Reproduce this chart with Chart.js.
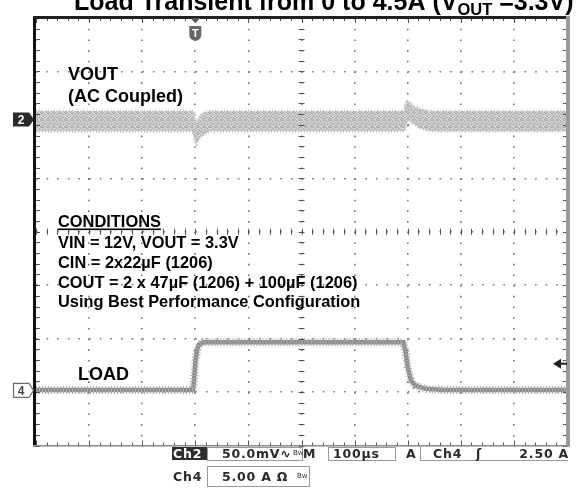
<!DOCTYPE html>
<html>
<head>
<meta charset="utf-8">
<style>
  html, body { margin: 0; padding: 0; background: #fff; }
  #scope { display: block; }
</style>
</head>
<body>
<canvas id="scope" width="580" height="493"></canvas>
<script src="https://cdn.jsdelivr.net/npm/chart.js@4.4.0/dist/chart.umd.min.js"></script>
<script>
// horizontal: 100 us/div, trigger 3 divisions from the left edge
const timeRange = [-300, 700];

// Ch2 - VOUT, AC coupled (mV): trace centre and noise envelope
const voutTime = [-300, -2.4, -0.6, 2.3, 8.8, 18, 31, 395, 397.7, 402, 410, 423, 442, 700];
const voutMid  = [-2, -2, -13, -14, -7, -4, -2, -2, 10, 8, 4, 1, -2, -2];
const voutHigh = [8, 8, -2, -3, 4, 7, 8, 8, 18, 17, 13, 10, 8, 8];
const voutLow  = [-11, -11, -22, -23, -17, -13, -11, -11, 0, -1, -4, -8, -11, -11];

// Ch4 - load current step (A)
const loadTime = [-300, -4.3, -2.4, 0.4, 3.2, 7, 14.5, 392, 396, 400, 406, 414, 434, 470, 700];
const loadAmps = [0.05, 0.05, 0.94, 2.8, 3.75, 4.3, 4.5, 4.5, 3.6, 2.2, 0.95, 0.45, 0.15, 0.05, 0.05];

// channel settings (per division) and ground marker positions (div above centre)
const ch2PerDiv = 50;
const ch4PerDiv = 5;
const ch2Pos = 2.1;
const ch4Pos = -2.97;

// graticule is 10 x 8 divisions
const plotW = 531;
const plotH = 427.5;

const points = (xs, ys) => xs.map((x, i) => ({ x: x, y: ys[i] }));

// persistence-style grain for the VOUT trace
function grain() {
  const rows = ['120121', '212012', '101210', '021102', '210120', '112201', '201012'];
  const shades = ['#dedede', '#c6c6c6', '#acacac'];
  const c = document.createElement('canvas');
  c.width = 6; c.height = rows.length;
  const g = c.getContext('2d');
  rows.forEach((r, y) => r.split('').forEach((v, x) => {
    g.fillStyle = shades[+v];
    g.fillRect(x, y, 1, 1);
  }));
  return g.createPattern(c, 'repeat');
}

const scopeOverlay = {
  id: 'scopeOverlay',
  afterDraw(chart) {
    const ctx = chart.ctx;
    const a = chart.chartArea;
    const xs = chart.scales.x;
    const ys = chart.scales.yDiv;
    const x0 = xs.getPixelForValue(200);
    const y0 = ys.getPixelForValue(0);

    ctx.save();

    // minor ticks on the frame and the centre cross
    ctx.strokeStyle = '#555';
    ctx.lineWidth = 1;
    for (let t = timeRange[0]; t <= timeRange[1]; t += 20) {
      const px = Math.round(xs.getPixelForValue(t)) + 0.5;
      const len = (t % 100 === 0) ? 5 : 3;
      ctx.beginPath();
      ctx.moveTo(px, a.top); ctx.lineTo(px, a.top + len);
      ctx.moveTo(px, a.bottom); ctx.lineTo(px, a.bottom - len);
      ctx.moveTo(px, y0 - 3); ctx.lineTo(px, y0 + 3);
      ctx.stroke();
    }
    for (let d = -4; d <= 4.001; d += 0.2) {
      const py = Math.round(ys.getPixelForValue(d)) + 0.5;
      ctx.beginPath();
      ctx.moveTo(a.left, py); ctx.lineTo(a.left + 4, py);
      ctx.moveTo(a.right, py); ctx.lineTo(a.right - 4, py);
      ctx.moveTo(x0 - 3, py); ctx.lineTo(x0 + 3, py);
      ctx.stroke();
    }

    // frame
    ctx.fillStyle = '#111';
    ctx.fillRect(a.left - 3, a.top - 2, 3, a.bottom - a.top + 3);
    ctx.fillStyle = '#222';
    ctx.fillRect(a.left - 3, a.top - 2, a.right - a.left + 3, 3);
    ctx.fillStyle = '#9a9a9a';
    ctx.fillRect(a.right - 1, a.top - 2, 4, a.bottom - a.top + 3);
    ctx.fillStyle = '#8a8a8a';
    ctx.fillRect(a.left - 3, a.bottom - 0.5, a.right - a.left + 6, 1.5);

    // channel 2 ground marker
    const m2 = chart.scales.y2.getPixelForValue(0);
    ctx.fillStyle = '#2b2b2b';
    ctx.beginPath();
    ctx.moveTo(13, m2 - 7); ctx.lineTo(29, m2 - 7); ctx.lineTo(34, m2);
    ctx.lineTo(29, m2 + 7); ctx.lineTo(13, m2 + 7); ctx.closePath();
    ctx.fill();
    ctx.fillStyle = '#fff';
    ctx.font = 'bold 12px "Liberation Sans", Arial, sans-serif';
    ctx.textAlign = 'center';
    ctx.fillText('2', 21, m2 + 4.5);

    // channel 4 ground marker
    const m4 = chart.scales.y4.getPixelForValue(0);
    ctx.fillStyle = '#fff';
    ctx.strokeStyle = '#6a6a6a';
    ctx.lineWidth = 1.2;
    ctx.beginPath();
    ctx.moveTo(13.5, m4 - 7); ctx.lineTo(29, m4 - 7); ctx.lineTo(33.5, m4);
    ctx.lineTo(29, m4 + 7); ctx.lineTo(13.5, m4 + 7); ctx.closePath();
    ctx.fill(); ctx.stroke();
    ctx.fillStyle = '#444';
    ctx.fillText('4', 21, m4 + 4.5);

    // trigger position marker
    const tx = xs.getPixelForValue(0);
    ctx.fillStyle = '#555';
    ctx.beginPath();
    ctx.moveTo(tx - 5, a.top); ctx.lineTo(tx + 5, a.top); ctx.lineTo(tx, a.top + 5);
    ctx.closePath(); ctx.fill();
    ctx.fillStyle = '#666';
    ctx.beginPath();
    ctx.moveTo(tx - 6, a.top + 8); ctx.lineTo(tx + 6, a.top + 8);
    ctx.lineTo(tx + 6, a.top + 18);
    ctx.quadraticCurveTo(tx + 5, a.top + 22, tx, a.top + 23);
    ctx.quadraticCurveTo(tx - 5, a.top + 22, tx - 6, a.top + 18);
    ctx.closePath(); ctx.fill();
    ctx.fillStyle = '#fff';
    ctx.font = 'bold 11px "Liberation Sans", Arial, sans-serif';
    ctx.fillText('T', tx, a.top + 19);

    // trigger level marker (2.50 A on Ch4)
    const ty = chart.scales.y4.getPixelForValue(2.5);
    ctx.fillStyle = '#222';
    ctx.beginPath();
    ctx.moveTo(a.right - 14, ty); ctx.lineTo(a.right - 6, ty - 5); ctx.lineTo(a.right - 6, ty + 5);
    ctx.closePath(); ctx.fill();
    ctx.fillRect(a.right - 6, ty - 1, 6, 2);

    // annotations
    ctx.textAlign = 'left';
    ctx.fillStyle = '#000';
    ctx.font = 'bold 18px "Liberation Sans", Arial, sans-serif';
    ctx.fillText('VOUT', 68, 80);
    ctx.fillText('(AC Coupled)', 68, 102);
    ctx.fillText('LOAD', 78, 380);

    ctx.font = 'bold 16.4px "Liberation Sans", Arial, sans-serif';
    const cond = [
      'VIN = 12V, VOUT = 3.3V',
      'CIN = 2x22\u00b5F (1206)',
      'COUT = 2 x 47\u00b5F (1206) + 100\u00b5F (1206)',
      'Using Best Performance Configuration'
    ];
    ctx.fillText('CONDITIONS', 58, 227);
    const cw = ctx.measureText('CONDITIONS').width;
    ctx.fillRect(58, 228.5, cw, 1.6);
    cond.forEach((s, i) => ctx.fillText(s, 58, 248 + i * 19.8));

    // title
    ctx.font = 'bold 25px "Liberation Sans", Arial, sans-serif';
    let tx2 = 74;
    const t1 = 'Load Transient from 0 to 4.5A (V';
    ctx.fillText(t1, tx2, 10);
    tx2 += ctx.measureText(t1).width;
    ctx.font = 'bold 16.5px "Liberation Sans", Arial, sans-serif';
    ctx.fillText('OUT', tx2, 15);
    tx2 += ctx.measureText('OUT').width;
    ctx.font = 'bold 25px "Liberation Sans", Arial, sans-serif';
    ctx.fillText(' =3.3V)', tx2, 10);

    // readout bar
    ctx.font = 'bold 12.5px "DejaVu Sans", sans-serif';
    ctx.letterSpacing = '0.8px';
    ctx.fillStyle = '#2e2e2e';
    ctx.fillRect(172, 447, 35, 13);
    ctx.fillStyle = '#fff';
    ctx.fillText('Ch2', 173, 458);

    ctx.strokeStyle = '#9a9a9a';
    ctx.lineWidth = 1;
    ctx.strokeRect(207.5, 447.5, 95, 13);
    ctx.strokeRect(328.5, 447.5, 67, 13);
    ctx.strokeRect(207.5, 466.5, 102, 20);
    ctx.beginPath();
    ctx.moveTo(420.5, 447); ctx.lineTo(420.5, 460.5); ctx.lineTo(568, 460.5);
    ctx.stroke();

    ctx.fillStyle = '#2a2a2a';
    ctx.fillText('50.0mV\u223f', 222, 458);
    ctx.fillText('M', 303, 458);
    ctx.fillText('100\u00b5s', 333, 458);
    ctx.fillText('A', 406, 458);
    ctx.fillText('Ch4', 433, 458);
    ctx.fillText('\u0283', 476, 458);
    ctx.textAlign = 'right';
    ctx.fillText('2.50 A', 569, 458);
    ctx.textAlign = 'left';
    ctx.fillText('Ch4', 173, 481);
    ctx.fillText('5.00 A \u03a9', 222, 481);
    ctx.font = '7px "DejaVu Sans", sans-serif';
    ctx.letterSpacing = '0px';
    ctx.fillText('Bw', 293, 455);
    ctx.fillText('Bw', 297, 478);

    ctx.restore();
  }
};

const vGrain = grain();

new Chart(document.getElementById('scope'), {
  type: 'line',
  data: {
    datasets: [
      {
        label: 'VOUT envelope',
        data: points(voutTime, voutHigh),
        yAxisID: 'y2',
        borderColor: '#c8c8c8',
        borderWidth: 3,
        borderDash: [1, 2],
        pointRadius: 0,
        backgroundColor: vGrain,
        fill: '+1',
      },
      {
        label: 'VOUT low',
        data: points(voutTime, voutLow),
        yAxisID: 'y2',
        borderColor: '#c8c8c8',
        borderWidth: 3,
        borderDash: [1, 2],
        pointRadius: 0,
        fill: false,
      },
      {
        label: 'VOUT',
        data: points(voutTime, voutMid),
        yAxisID: 'y2',
        borderColor: 'rgba(160,160,160,0.55)',
        borderWidth: 5,
        pointRadius: 0,
      },
      {
        label: 'LOAD noise',
        data: points(loadTime, loadAmps),
        yAxisID: 'y4',
        borderColor: '#aaaaaa',
        borderWidth: 8,
        borderDash: [1, 2],
        pointRadius: 0,
      },
      {
        label: 'LOAD',
        data: points(loadTime, loadAmps),
        yAxisID: 'y4',
        borderColor: '#8c8c8c',
        borderWidth: 4.5,
        pointRadius: 0,
      },
    ],
  },
  options: {
    responsive: false,
    animation: false,
    events: [],
    layout: { padding: { left: 36, right: 13, top: 18, bottom: 47.5 } },
    plugins: { legend: { display: false }, tooltip: { enabled: false } },
    scales: {
      x: {
        type: 'linear',
        min: timeRange[0],
        max: timeRange[1],
        z: 1,
        ticks: { display: false, stepSize: 100 },
        grid: { color: '#777', lineWidth: 1.6, drawTicks: false },
        border: { display: false, dash: [1.6, plotH / 40 - 1.6] },
      },
      yDiv: {
        type: 'linear',
        position: 'left',
        min: -4,
        max: 4,
        z: 1,
        ticks: { display: false, stepSize: 1 },
        grid: { color: '#777', lineWidth: 1.6, drawTicks: false },
        border: { display: false, dash: [1.6, plotW / 50 - 1.6] },
      },
      y2: {
        display: false,
        min: (-4 - ch2Pos) * ch2PerDiv,
        max: (4 - ch2Pos) * ch2PerDiv,
      },
      y4: {
        display: false,
        min: (-4 - ch4Pos) * ch4PerDiv,
        max: (4 - ch4Pos) * ch4PerDiv,
      },
    },
  },
  plugins: [scopeOverlay],
});
</script>
</body>
</html>
